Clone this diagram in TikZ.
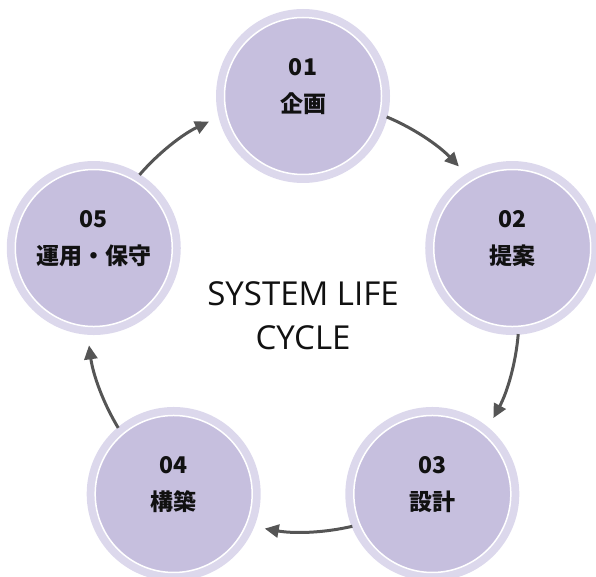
\documentclass[tikz,border=0pt]{standalone}
\usepackage{fontspec}
\setmainfont{Open Sans}
\newfontfamily\jp{Noto Sans CJK JP}
\usetikzlibrary{arrows.meta,calc}
\definecolor{ringc}{HTML}{DCD8EC}
\definecolor{fillc}{HTML}{C6BFDE}
\definecolor{arrc}{HTML}{555555}
\definecolor{txtc}{HTML}{111111}
\begin{document}
\begin{tikzpicture}[x=1pt,y=1pt,
  ring/.style={circle,fill=ringc,minimum size=174pt,inner sep=0pt},
  core/.style={circle,fill=fillc,draw=white,line width=1.5pt,minimum size=157pt,inner sep=0pt},
  num/.style={font=\jp\bfseries\fontsize{23}{23}\selectfont,text=txtc,inner sep=0pt},
  lbl/.style={font=\jp\bfseries\fontsize{23}{23}\selectfont,text=txtc,inner sep=0pt},
  arr/.style={draw=arrc,line width=3pt,-{Triangle[length=14pt,width=13pt]}}]
\clip (0,0) rectangle (596,576);
\coordinate (O) at (303,260);
\foreach \i/\a/\n/\t in {1/90/01/企画,2/18/02/提案,3/-54/03/設計,4/-126/04/構築,5/162/05/運用・保守}{
  \node[ring] (r\i) at ($(O)+(\a:220)$) {};
  \node[core] (c\i) at (r\i) {};
  \node[num] (n\i) at ($(c\i)+(0,29)$) {\n};
  \node[lbl] (t\i) at ($(c\i)+(0,-8)$) {\t};
}
\foreach \i/\a in {1/90,2/18,3/-54,4/-126,5/162}{
  \pgfmathsetmacro\sa{\a-22.8}
  \pgfmathsetmacro\ea{\a-72+25.8}
  \coordinate (s\i) at ($(O)+(\sa:216)$);
  \draw[arr] (s\i) arc[start angle=\sa, end angle=\ea, radius=216];
}
\node[font=\fontsize{33}{44}\selectfont,align=center,text=txtc,inner sep=0pt] (title) at (O) {SYSTEM LIFE\\CYCLE};
\end{tikzpicture}
\end{document}
